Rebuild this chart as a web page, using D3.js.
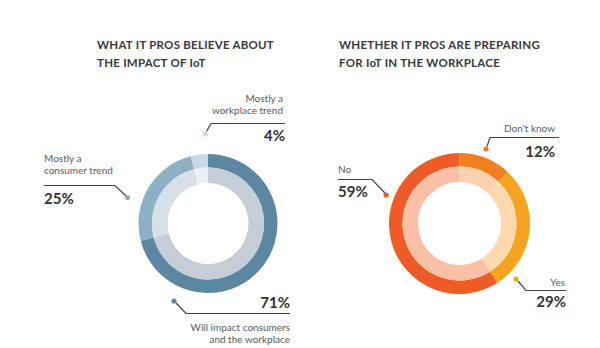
<!DOCTYPE html>
<html>
<head>
<meta charset="utf-8">
<script src="https://cdn.jsdelivr.net/npm/d3@7"></script>
<style>
  body { margin: 0; background: #fff; }
  svg { display: block; font-family: Lato, "Open Sans", sans-serif; }
  .title { font-size: 11.5px; font-weight: bold; fill: #3a3a3a; letter-spacing: 0.25px; }
  .lab { font-size: 10px; fill: #5a5a5a; }
  .pct { font-size: 15px; font-weight: bold; fill: #333; }
  .lead { fill: none; stroke: #444; stroke-width: 1.2; }
</style>
</head>
<body>
<div id="chart"></div>
<script>
var width = 600, height = 348;

// left chart
var impactCats = ["Will impact consumers and the workplace", "Mostly a consumer trend", "Mostly a workplace trend"]
var impactVals = [71, 25, 4]
// right chart
var prepCats = ["Don't know", "Yes", "No"]
var prepVals = [12, 29, 59]

var titles = [
    ["WHAT IT PROS BELIEVE ABOUT", "THE IMPACT OF IoT"],
    ["WHETHER IT PROS ARE PREPARING", "FOR IoT IN THE WORKPLACE"]
]

var svg = d3.select("#chart").append("svg")
    .attr("width", width)
    .attr("height", height)

var charts = [
    {
        cats: impactCats, vals: impactVals, cx: 208, cy: 223.5, r: 69.5,
        outer: ["#5c87a2", "#8eb0c5", "#c7d9e4"],
        inner: ["#c5cdd6", "#d7dfe7", "#eaf0f4"],
        titleX: 97,
        // annotation layout: dot point, line path, label lines
        notes: [
            { i: 0, dot: [174, 301], path: [[176, 303], [186, 313.5], [290, 313.5]],
              pct: [290, 308, "end"], text: ["Will impact consumers", "and the workplace"], tx: [290, 331, "end"] },
            { i: 1, dot: [127.5, 197.5], path: [[44, 185.5], [115, 185.5], [126, 196]],
              pct: [44, 204, "start"], text: ["Mostly a", "consumer trend"], tx: [44, 162, "start"] },
            { i: 2, dot: [205.5, 134], path: [[206.5, 131.5], [211, 123.5], [285, 123.5]],
              pct: [285, 141, "end"], text: ["Mostly a", "workplace trend"], tx: [283, 102, "end"] }
        ]
    },
    {
        cats: prepCats, vals: prepVals, cx: 459.5, cy: 223.5, r: 70.5,
        outer: ["#f0801f", "#f6a31d", "#ee5b24"],
        inner: ["#fbd2b0", "#fdd9ad", "#f9c0a5"],
        titleX: 339,
        notes: [
            { i: 0, dot: [486, 149], path: [[487, 146.5], [490, 137.5], [559, 137.5]],
              pct: [555, 157, "end"], text: ["Don't know"], tx: [555, 132, "end"] },
            { i: 1, dot: [516, 279], path: [[518, 281], [526, 290.5], [566, 290.5]],
              pct: [566, 307, "end"], text: ["Yes"], tx: [565, 286, "end"] },
            { i: 2, dot: [386, 195], path: [[338, 179.5], [372, 179.5], [385, 193]],
              pct: [338, 197, "start"], text: ["No"], tx: [338, 173, "start"] }
        ]
    }
]

charts.forEach(function(c, k){
    // titles
    svg.append("text").attr("class", "title")
        .attr("x", c.titleX).attr("y", 48.5).text(titles[k][0])
    svg.append("text").attr("class", "title")
        .attr("x", c.titleX).attr("y", 67).text(titles[k][1])

    var pie = d3.pie().sort(null).value(d => d)
    var arcs = pie(c.vals)

    var g = svg.append("g")
        .attr("transform", "translate(" + c.cx + "," + c.cy + ")")

    var outerArc = d3.arc().innerRadius(c.r - 13.5).outerRadius(c.r)
    var innerArc = d3.arc().innerRadius(c.r - 29).outerRadius(c.r - 13.5)

    g.selectAll(".o").data(arcs).enter().append("path")
        .attr("d", outerArc)
        .attr("fill", (d, i) => c.outer[i])
    g.selectAll(".n").data(arcs).enter().append("path")
        .attr("d", innerArc)
        .attr("fill", (d, i) => c.inner[i])

    // annotations
    c.notes.forEach(function(n){
        svg.append("path").attr("class", "lead")
            .attr("d", d3.line()(n.path))
        svg.append("circle")
            .attr("cx", n.dot[0]).attr("cy", n.dot[1]).attr("r", 2.6)
            .attr("fill", c.outer[n.i])
        svg.append("text").attr("class", "pct")
            .attr("x", n.pct[0]).attr("y", n.pct[1])
            .attr("text-anchor", n.pct[2])
            .text(c.vals[n.i] + "%")
        n.text.forEach(function(t, j){
            svg.append("text").attr("class", "lab")
                .attr("x", n.tx[0]).attr("y", n.tx[1] + j * 12)
                .attr("text-anchor", n.tx[2])
                .text(t)
        })
    })
})
</script>
</body>
</html>
